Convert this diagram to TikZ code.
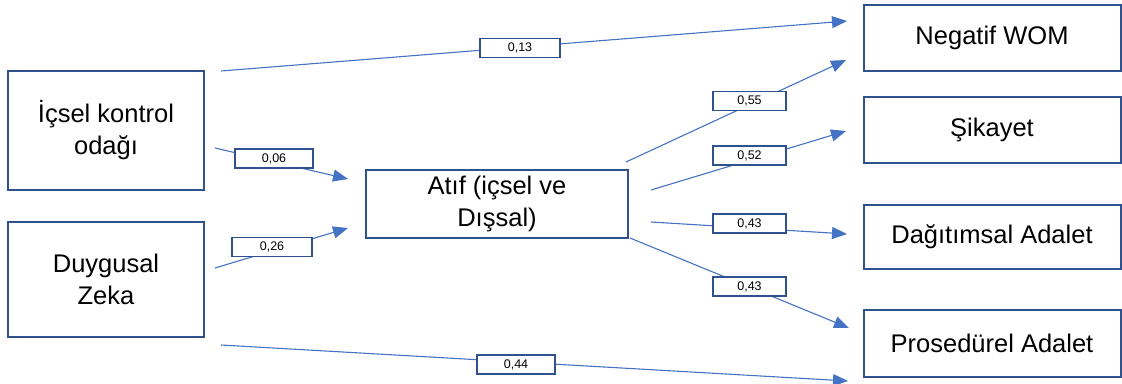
\documentclass[tikz,border=0pt]{standalone}
\usepackage{fontspec}
\setmainfont{Liberation Sans}
\usetikzlibrary{arrows.meta}
\definecolor{boxblue}{HTML}{2F528F}
\definecolor{linkblue}{HTML}{4472C4}
\tikzset{
  var/.style={draw=boxblue, line width=2pt, fill=white, align=center,
    font=\fontsize{25.5}{32}\selectfont, inner sep=0pt},
  coef/.style={draw=boxblue, line width=1.6pt, fill=white,
    minimum width=80pt, minimum height=19pt, inner sep=0pt,
    font=\fontsize{12.5}{14}\selectfont},
  link/.style={draw=linkblue, line width=1.1pt,
    -{Triangle[length=15pt,width=12pt]}},
}
\begin{document}
\begin{tikzpicture}[x=1pt,y=-1pt]
\useasboundingbox (0,0) rectangle (1122,383);

% variable boxes
\node[var, minimum width=196pt, minimum height=119pt] (ick) at (106,130.5) {İçsel kontrol\\odağı};
\node[var, minimum width=196pt, minimum height=115pt] (dz) at (106,279.5) {Duygusal\\Zeka};
\node[var, minimum width=262pt, minimum height=68pt] (atif) at (497,204) {Atıf (içsel ve\\Dışsal)};
\node[var, minimum width=257pt, minimum height=66pt] (nwom) at (992,38) {Negatif WOM};
\node[var, minimum width=257pt, minimum height=66pt] (sik) at (992,129.5) {Şikayet};
\node[var, minimum width=257pt, minimum height=64pt] (dag) at (992,237) {Dağıtımsal Adalet};
\node[var, minimum width=257pt, minimum height=67pt] (pros) at (992,343.5) {Prosedürel Adalet};

% connector end points
\coordinate (a1) at (221,71);   \coordinate (b1) at (847,21);
\coordinate (a2) at (215,148);  \coordinate (b2) at (348,179);
\coordinate (a3) at (215,268);  \coordinate (b3) at (348,228);
\coordinate (a4) at (626,162);  \coordinate (b4) at (846,60);
\coordinate (a5) at (651,190);  \coordinate (b5) at (846,131);
\coordinate (a6) at (651,222);  \coordinate (b6) at (847,234);
\coordinate (a7) at (630,238);  \coordinate (b7) at (849,328);
\coordinate (a8) at (221,345);  \coordinate (b8) at (848,381);

% paths
\draw[link] (a1) -- (b1);
\draw[link] (a2) -- (b2);
\draw[link] (a3) -- (b3);
\draw[link] (a4) -- (b4);
\draw[link] (a5) -- (b5);
\draw[link] (a6) -- (b6);
\draw[link] (a7) -- (b7);
\draw[link] (a8) -- (b8);

% path coefficients
\node[coef] (c1) at (520,48) {0,13};
\node[coef, minimum width=78pt] (c2) at (274,158.5) {0,06};
\node[coef] (c3) at (272,247) {0,26};
\node[coef, minimum width=73pt] (c4) at (749.5,101) {0,55};
\node[coef, minimum width=73pt] (c5) at (749.5,155.5) {0,52};
\node[coef, minimum width=73pt] (c6) at (749.5,223.5) {0,43};
\node[coef, minimum width=73pt] (c7) at (749.5,286.5) {0,43};
\node[coef, minimum width=78pt] (c8) at (516,364.5) {0,44};
\end{tikzpicture}
\end{document}
